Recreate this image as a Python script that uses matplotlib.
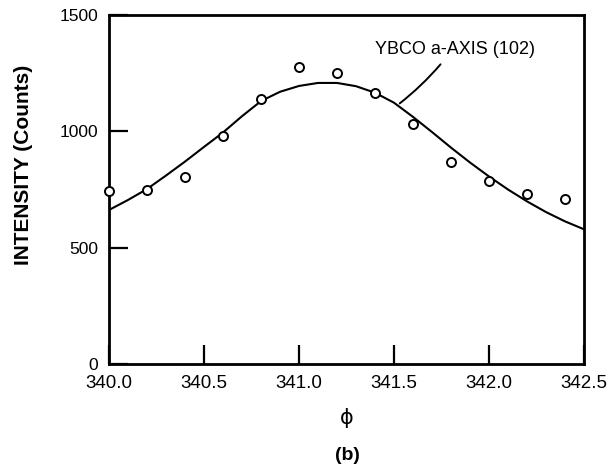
import matplotlib
matplotlib.use("Agg")
import matplotlib.pyplot as plt

plt.rcParams['font.family'] = ['Liberation Sans', 'DejaVu Sans']

# Measured intensity vs. phi
phi_meas = [340.0, 340.2, 340.4, 340.6, 340.8, 341.0, 341.2,
            341.4, 341.6, 341.8, 342.0, 342.2, 342.4]
counts_meas = [742, 746, 805, 978, 1138, 1278, 1250,
               1163, 1032, 868, 785, 730, 710]

# Fitted curve, sampled every 0.1 degree
phi_fit = [340.0, 340.1, 340.2, 340.3, 340.4, 340.5, 340.6, 340.7, 340.8,
           340.9, 341.0, 341.1, 341.2, 341.3, 341.4, 341.5, 341.6, 341.7,
           341.8, 341.9, 342.0, 342.1, 342.2, 342.3, 342.4, 342.5]
counts_fit = [662, 705, 752, 810, 870, 933, 995, 1065, 1130,
              1170, 1195, 1208, 1208, 1194, 1166, 1123, 1062, 997,
              930, 866, 806, 750, 699, 653, 613, 579]

x_ticks = [340.0, 340.5, 341.0, 341.5, 342.0, 342.5]
x_ticklabels = ["340.0", "340.5", "341.0", "341.5", "342.0", "342.5"]
y_ticks = [0, 500, 1000, 1500]
y_ticklabels = ["0", "500", "1000", "1500"]

fig = plt.figure(figsize=(6.13, 4.68), dpi=100)
ax = fig.add_axes([109 / 613, 1 - 364 / 468, 475 / 613, 349 / 468])

ax.plot(phi_fit, counts_fit, color='black', lw=1.5, zorder=2)
ax.plot(phi_meas, counts_meas, linestyle='none', marker='o', ms=6.5,
        mfc='white', mec='black', mew=1.4, clip_on=False, zorder=3)

ax.set_xlim(340.0, 342.5)
ax.set_ylim(0, 1500)
ax.set_xticks(x_ticks)
ax.set_xticklabels(x_ticklabels)
ax.set_yticks(y_ticks)
ax.set_yticklabels(y_ticklabels)
ax.tick_params(axis='x', direction='in', length=14, width=1.6,
               labelsize=13.5, pad=8, top=False)
ax.tick_params(axis='y', direction='in', length=14, width=1.6,
               labelsize=12.5, pad=8, right=False)
for side in ax.spines.values():
    side.set_linewidth(2.0)

ax.text(341.4, 1350, "YBCO a-AXIS (102)", fontsize=13, ha='left',
        va='center')
ax.annotate("", xy=(341.53, 1120), xytext=(341.745, 1288),
            arrowprops=dict(arrowstyle='-', lw=1.4, color='black',
                            shrinkA=0, shrinkB=0,
                            connectionstyle='arc3,rad=-0.05'))

fig.text(24 / 613, 1 - 165 / 468, "INTENSITY (Counts)", rotation=90,
         fontsize=15, fontweight='bold', ha='center', va='center')
fig.text(347 / 613, 1 - 418 / 468, "\u03d5", fontsize=15,
         family=['DejaVu Sans'], ha='center', va='center')
fig.text(347 / 613, 1 - 455 / 468, "(b)", fontsize=14, fontweight='bold',
         ha='center', va='center')

fig.savefig("out.png", dpi=100)
